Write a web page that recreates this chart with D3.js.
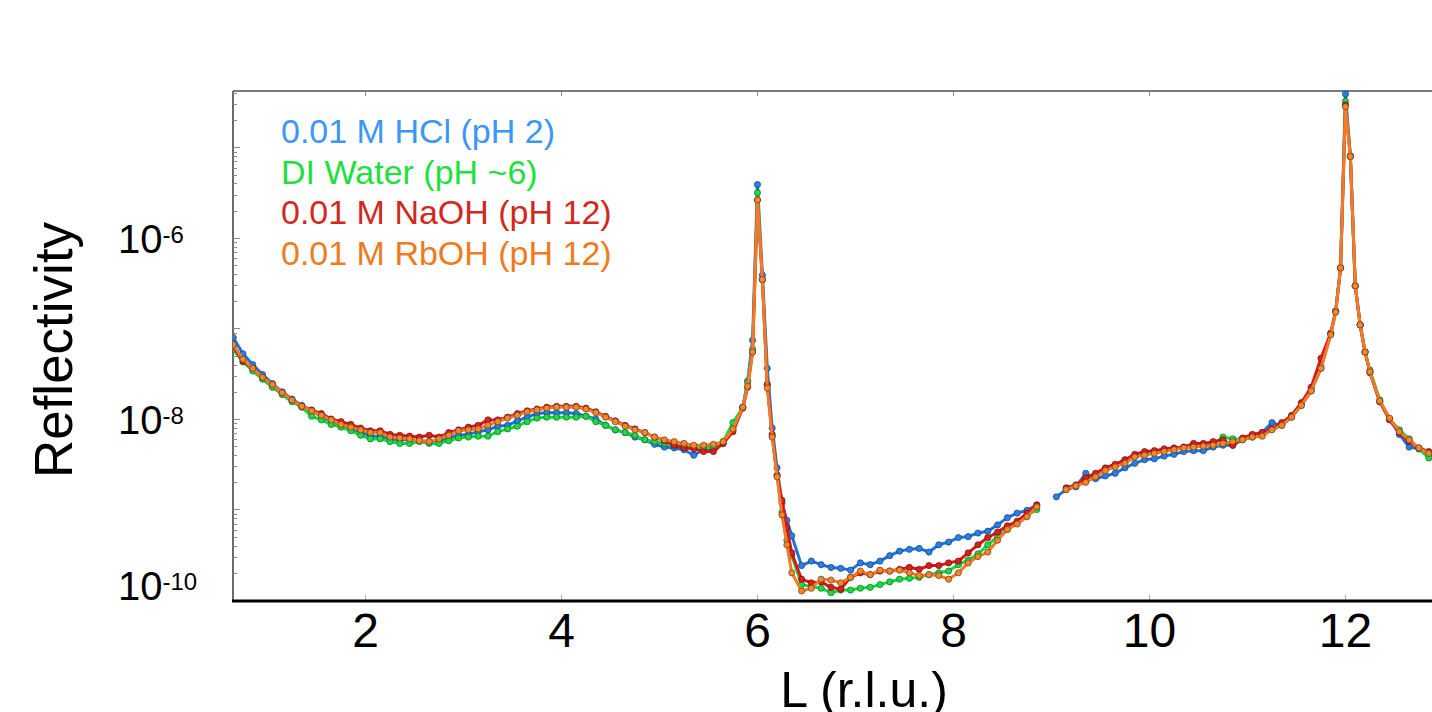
<!DOCTYPE html>
<html>
<head>
<meta charset="utf-8">
<script src="https://cdn.jsdelivr.net/npm/d3@7/dist/d3.min.js"></script>
<style>
  body { margin: 0; background: #fff; }
  svg { display: block; font-family: "Liberation Sans", Arial, sans-serif; }
</style>
</head>
<body>
<div id="chart"></div>
<script>
// L (r.l.u.) sampling, below and above the gap near L = 9
var L_low = [0.65,0.75,0.85,0.95,1.05,1.15,1.25,1.35,1.45,1.55,1.65,1.75,1.85,1.95,2.05,2.15,2.25,2.35,2.45,2.55,
  2.65,2.75,2.85,2.95,3.05,3.15,3.25,3.35,3.45,3.55,3.65,3.75,3.85,3.95,4.05,4.15,4.25,4.35,4.45,4.55,
  4.65,4.75,4.85,4.95,5.05,5.15,5.25,5.35,5.45,5.55,5.65,5.75,5.85,
  5.9,5.95,6.0,6.05,6.1,6.15,6.2,6.25,6.3,6.35,
  6.45,6.55,6.65,6.75,6.85,6.95,7.05,7.15,7.25,7.35,7.45,7.55,7.65,7.75,7.85,7.95,8.05,8.15,8.25,8.35,
  8.45,8.55,8.65,8.75,8.85];
var L_high = [9.05,9.15,9.25,9.35,9.45,9.55,9.65,9.75,9.85,9.95,10.05,10.15,10.25,10.35,10.45,10.55,10.65,10.75,
  10.85,10.95,11.05,11.15,11.25,11.35,11.45,11.55,11.65,11.75,11.85,
  11.9,11.95,12.0,12.05,12.1,12.15,12.2,12.25,
  12.35,12.45,12.55,12.65,12.75,12.85];

// log10(reflectivity) for each solution
var hclLow = [-7.10,-7.28,-7.40,-7.51,-7.61,-7.70,-7.78,-7.85,-7.91,-7.97,-8.02,-8.07,-8.11,-8.14,-8.19,-8.19,-8.22,-8.23,-8.23,-8.24,
  -8.25,-8.24,-8.21,-8.18,-8.17,-8.14,-8.12,-8.08,-8.07,-8.02,-7.98,-7.94,-7.93,-7.93,-7.93,-7.94,-7.97,-8.00,-8.07,-8.12,
  -8.15,-8.20,-8.23,-8.28,-8.31,-8.32,-8.34,-8.40,-8.34,-8.34,-8.27,-8.12,-7.87,
  -7.58,-7.13,-5.41,-6.41,-7.44,-8.10,-8.54,-8.93,-9.12,-9.29,
  -9.62,-9.57,-9.61,-9.64,-9.65,-9.67,-9.59,-9.61,-9.57,-9.51,-9.46,-9.44,-9.43,-9.47,-9.39,-9.36,-9.31,-9.30,-9.26,-9.24,
  -9.17,-9.09,-9.04,-9.01,-8.95];
var hclHigh = [-8.86,-8.78,-8.75,-8.60,-8.66,-8.63,-8.60,-8.54,-8.49,-8.45,-8.44,-8.41,-8.39,-8.36,-8.35,-8.35,-8.31,-8.29,
  -8.29,-8.23,-8.20,-8.15,-8.04,-8.07,-7.98,-7.85,-7.69,-7.44,-7.06,
  -6.81,-6.33,-4.41,-5.10,-6.53,-6.96,-7.26,-7.48,
  -7.81,-8.00,-8.17,-8.31,-8.33,-8.38];

var waterLow = [-7.23,-7.37,-7.47,-7.56,-7.65,-7.73,-7.81,-7.87,-7.97,-8.01,-8.06,-8.09,-8.13,-8.18,-8.22,-8.22,-8.25,-8.27,-8.27,-8.25,
  -8.27,-8.27,-8.24,-8.21,-8.20,-8.19,-8.19,-8.14,-8.11,-8.08,-8.03,-7.99,-7.98,-7.98,-7.98,-7.98,-7.97,-8.03,-8.07,-8.12,
  -8.15,-8.18,-8.23,-8.25,-8.27,-8.29,-8.30,-8.32,-8.32,-8.31,-8.25,-8.04,-7.87,
  -7.60,-7.23,-5.50,-6.46,-7.62,-8.19,-8.63,-9.03,-9.34,-9.51,
  -9.83,-9.85,-9.87,-9.92,-9.89,-9.89,-9.87,-9.86,-9.83,-9.80,-9.77,-9.76,-9.75,-9.72,-9.70,-9.68,-9.61,-9.56,-9.49,-9.39,
  -9.30,-9.22,-9.14,-9.07,-9.00];
var waterHigh = [null,-8.77,-8.73,-8.67,-8.62,-8.55,-8.52,-8.46,-8.41,-8.38,-8.36,-8.34,-8.33,-8.31,-8.30,-8.29,-8.28,-8.20,
  -8.22,-8.22,-8.19,-8.17,-8.11,-8.06,-7.97,-7.83,-7.67,-7.41,-7.06,
  -6.81,-6.33,-4.49,-5.09,-6.53,-6.96,-7.26,-7.46,
  -7.79,-8.00,-8.12,-8.22,-8.33,-8.43];

var naohLow = [-7.20,-7.36,-7.44,-7.54,-7.62,-7.71,-7.79,-7.86,-7.90,-7.94,-8.00,-8.03,-8.06,-8.10,-8.13,-8.13,-8.17,-8.18,-8.19,-8.20,
  -8.18,-8.20,-8.15,-8.12,-8.09,-8.07,-8.01,-8.01,-7.98,-7.94,-7.91,-7.89,-7.87,-7.86,-7.86,-7.86,-7.88,-7.92,-7.97,-8.02,
  -8.07,-8.11,-8.15,-8.20,-8.24,-8.29,-8.32,-8.33,-8.36,-8.36,-8.27,-8.14,-7.88,
  -7.65,-7.26,-5.58,-6.46,-7.62,-8.17,-8.62,-8.90,-9.20,-9.48,
  -9.77,-9.81,-9.80,-9.86,-9.88,-9.75,-9.70,-9.72,-9.68,-9.68,-9.66,-9.64,-9.66,-9.62,-9.62,-9.59,-9.57,-9.48,-9.39,-9.31,
  -9.25,-9.18,-9.13,-9.04,-8.95];
var naohHigh = [null,-8.76,-8.73,-8.65,-8.60,-8.54,-8.50,-8.45,-8.39,-8.36,-8.35,-8.33,-8.32,-8.31,-8.27,-8.27,-8.25,-8.23,
  -8.29,-8.21,-8.17,-8.15,-8.11,-8.04,-7.96,-7.82,-7.65,-7.33,-7.05,
  -6.81,-6.33,-4.53,-5.10,-6.53,-6.96,-7.26,-7.49,
  -7.81,-8.01,-8.15,-8.25,-8.32,-8.36];

var rbohLow = [-7.18,-7.34,-7.44,-7.54,-7.62,-7.71,-7.79,-7.86,-7.91,-7.96,-8.01,-8.06,-8.09,-8.12,-8.15,-8.15,-8.20,-8.21,-8.22,-8.24,
  -8.25,-8.22,-8.18,-8.13,-8.12,-8.11,-8.07,-8.03,-7.99,-7.96,-7.92,-7.90,-7.88,-7.87,-7.87,-7.87,-7.89,-7.93,-7.98,-8.03,
  -8.08,-8.12,-8.15,-8.20,-8.23,-8.25,-8.27,-8.29,-8.29,-8.28,-8.25,-8.11,-7.87,
  -7.64,-7.26,-5.58,-6.46,-7.66,-8.20,-8.64,-9.06,-9.39,-9.70,
  -9.90,-9.87,-9.77,-9.78,-9.81,-9.75,-9.68,-9.72,-9.67,-9.68,-9.67,-9.70,-9.73,-9.72,-9.73,-9.77,-9.70,-9.59,-9.52,-9.47,
  -9.34,-9.22,-9.16,-9.08,-8.97];
var rbohHigh = [null,-8.78,-8.74,-8.70,-8.64,-8.57,-8.53,-8.49,-8.42,-8.40,-8.38,-8.36,-8.34,-8.32,-8.31,-8.30,-8.29,-8.27,
  -8.25,-8.23,-8.20,-8.19,-8.12,-8.07,-7.98,-7.85,-7.69,-7.44,-7.07,
  -6.82,-6.33,-4.55,-5.10,-6.53,-6.96,-7.26,-7.48,
  -7.80,-7.99,-8.14,-8.23,-8.32,-8.38];

var seriesNames = ['0.01 M HCl (pH 2)', 'DI Water (pH ~6)', '0.01 M NaOH (pH 12)', '0.01 M RbOH (pH 12)'];
var xTicks = [2, 4, 6, 8, 10, 12];
var yTickExp = [-6, -8, -10];

var width = 1432, height = 712;
var pLeft = 233, pTop = 91, pRight = 1432, pBottom = 600;

var series = [
  {name: seriesNames[0], low: hclLow, high: hclHigh, line: '#1f72d8', fill: '#2a7fe0', edge: '#0d3f80', text: '#3b97f6'},
  {name: seriesNames[1], low: waterLow, high: waterHigh, line: '#12dc3a', fill: '#22d84a', edge: '#0a6a1e', text: '#1fe03f'},
  {name: seriesNames[2], low: naohLow, high: naohHigh, line: '#e01515', fill: '#d82020', edge: '#6e0c0c', text: '#d3281d'},
  {name: seriesNames[3], low: rbohLow, high: rbohHigh, line: '#f27a2c', fill: '#f0882e', edge: '#6a3510', text: '#f07a1e'}
];

var x = d3.scaleLinear().domain([0.648, 12.883]).range([pLeft, pRight]);
var y = d3.scaleLog().domain([1e-10, Math.pow(10, -4.376)]).range([pBottom, pTop]);

var svg = d3.select('#chart').append('svg')
  .attr('width', width)
  .attr('height', height);

svg.append('defs').append('clipPath').attr('id', 'plot-clip')
  .append('rect')
  .attr('x', pLeft).attr('y', pTop - 3)
  .attr('width', pRight - pLeft).attr('height', pBottom - pTop + 3);

// frame
svg.append('line')
  .attr('x1', pLeft).attr('x2', pRight)
  .attr('y1', pTop).attr('y2', pTop)
  .attr('stroke', '#7a7a7a').attr('stroke-width', 2);
svg.append('line')
  .attr('x1', pLeft).attr('x2', pLeft)
  .attr('y1', pTop).attr('y2', pBottom)
  .attr('stroke', '#6a6a6a').attr('stroke-width', 2);

// top and bottom x ticks
var xt = svg.append('g').attr('class', 'x-ticks');
xt.selectAll('line.top').data(xTicks).enter().append('line')
  .attr('class', 'top')
  .attr('x1', function(d) { return x(d); }).attr('x2', function(d) { return x(d); })
  .attr('y1', pTop).attr('y2', pTop + 5)
  .attr('stroke', '#888').attr('stroke-width', 1);
xt.selectAll('line.bot').data(xTicks).enter().append('line')
  .attr('class', 'bot')
  .attr('x1', function(d) { return x(d); }).attr('x2', function(d) { return x(d); })
  .attr('y1', pBottom).attr('y2', pBottom - 5)
  .attr('stroke', '#aaa').attr('stroke-width', 1);

// left log ticks (major + minor), pointing inward
var yt = svg.append('g').attr('class', 'y-ticks');
yt.selectAll('line').data(y.ticks()).enter().append('line')
  .attr('x1', pLeft).attr('x2', function(d) {
    var e = Math.log10(d);
    return pLeft + (Math.abs(e - Math.round(e)) < 1e-6 ? 7 : 4);
  })
  .attr('y1', function(d) { return Math.round(y(d)) + 0.5; })
  .attr('y2', function(d) { return Math.round(y(d)) + 0.5; })
  .attr('stroke', '#8a8a8a').attr('stroke-width', 1);

// data
var plot = svg.append('g').attr('clip-path', 'url(#plot-clip)');

var line = d3.line()
  .defined(function(d) { return d.v !== null; })
  .x(function(d) { return x(d.L); })
  .y(function(d) { return y(Math.pow(10, d.v)); });

function pairs(Ls, vs) {
  return Ls.map(function(l, i) { return {L: l, v: vs[i]}; });
}

series.forEach(function(s) {
  var g = plot.append('g').attr('class', 'series');
  [pairs(L_low, s.low), pairs(L_high, s.high)].forEach(function(seg) {
    g.append('path')
      .datum(seg)
      .attr('d', line)
      .attr('fill', 'none')
      .attr('stroke', s.line)
      .attr('stroke-width', 3)
      .attr('stroke-linejoin', 'round');
    g.selectAll(null)
      .data(seg.filter(function(d) { return d.v !== null; }))
      .enter().append('circle')
      .attr('cx', function(d) { return x(d.L); })
      .attr('cy', function(d) { return y(Math.pow(10, d.v)); })
      .attr('r', 3.1)
      .attr('fill', s.fill)
      .attr('stroke', s.edge)
      .attr('stroke-opacity', 0.75)
      .attr('stroke-width', 0.9);
  });
});

// bottom axis line
svg.append('line')
  .attr('x1', pLeft - 1).attr('x2', pRight)
  .attr('y1', pBottom + 1).attr('y2', pBottom + 1)
  .attr('stroke', '#000').attr('stroke-width', 3);

// x tick labels
svg.append('g').selectAll('text').data(xTicks).enter().append('text')
  .attr('x', function(d) { return x(d); })
  .attr('y', 647)
  .attr('text-anchor', 'middle')
  .attr('font-size', 48)
  .attr('fill', '#000')
  .text(function(d) { return d; });

// y tick labels 10^n
var yl = svg.append('g').selectAll('text').data(yTickExp).enter().append('text')
  .attr('x', 118)
  .attr('y', function(d) { return Math.min(y(Math.pow(10, d)) + 15, 600); })
  .attr('font-size', 40)
  .attr('fill', '#000');
yl.append('tspan').text('10');
yl.append('tspan')
  .attr('dy', -10)
  .attr('font-size', 24)
  .text(function(d) { return d; });

// axis titles
svg.append('text')
  .attr('transform', 'translate(72,350) rotate(-90)')
  .attr('text-anchor', 'middle')
  .attr('font-size', 53)
  .attr('fill', '#000')
  .text('Reflectivity');

svg.append('text')
  .attr('x', 864)
  .attr('y', 707)
  .attr('text-anchor', 'middle')
  .attr('font-size', 50)
  .attr('fill', '#000')
  .text('L (r.l.u.)');

// legend
svg.append('g').selectAll('text').data(series).enter().append('text')
  .attr('x', 281)
  .attr('y', function(d, i) { return 143 + i * 40.5; })
  .attr('font-size', 34)
  .attr('fill', function(d) { return d.text; })
  .text(function(d) { return d.name; });
</script>
</body>
</html>
